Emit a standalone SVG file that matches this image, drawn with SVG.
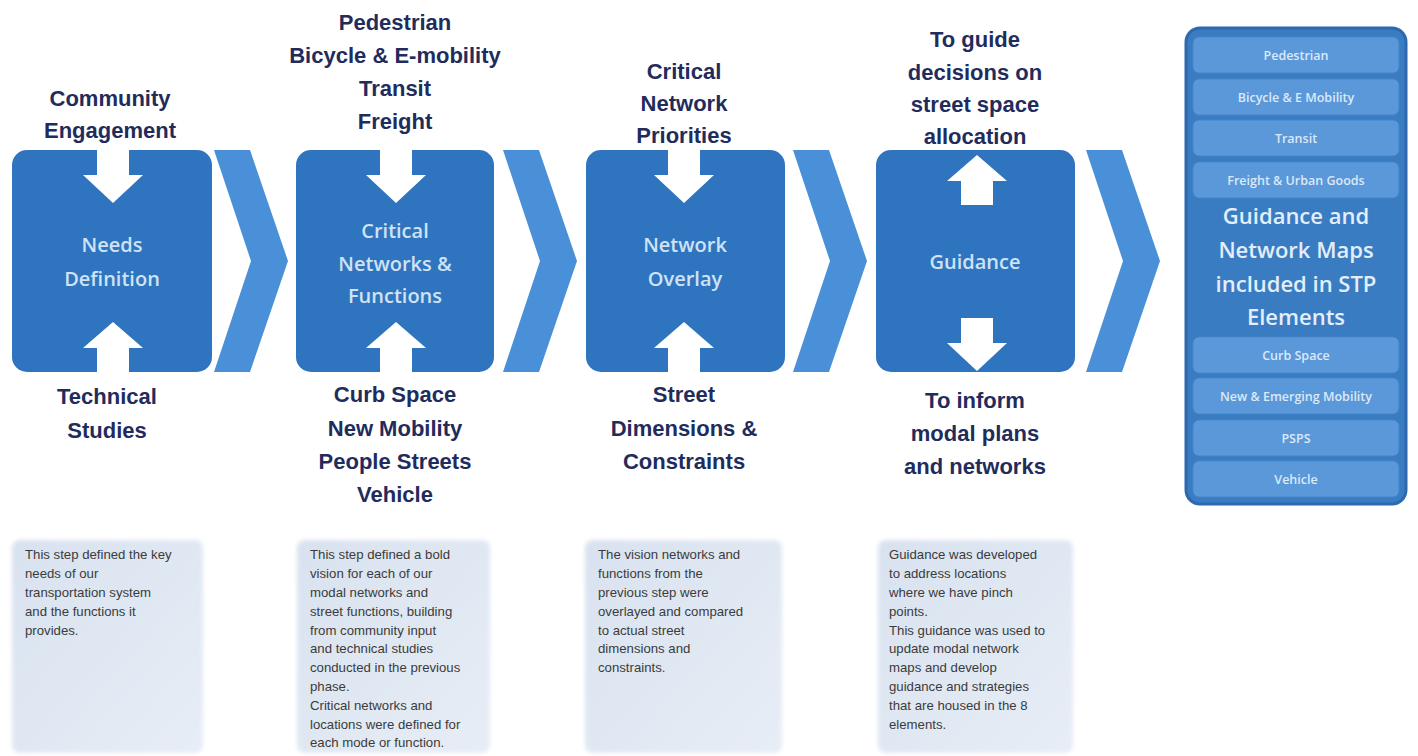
<svg xmlns="http://www.w3.org/2000/svg" width="1418" height="756" viewBox="0 0 1418 756">
<defs>
<style>
.box{fill:#2f74bf;}
.chev{fill:#4a90d8;}
.arr{fill:#ffffff;}
.lbl{font-family:"Liberation Sans",Arial,sans-serif;font-weight:bold;font-size:22px;fill:#1f2c5c;text-anchor:middle;}
.btxt{font-family:"Open Sans","Liberation Sans",sans-serif;font-weight:600;font-size:20px;fill:#cfe2f6;text-anchor:middle;}
.desc{fill:url(#dg);filter:url(#soft);}
.dtxt{font-family:"Liberation Sans",Arial,sans-serif;font-size:13.2px;fill:#3b3b3b;}
.bar{fill:#5a98da;stroke:#4585cb;stroke-width:1;}
.bartxt{font-family:"Open Sans","Liberation Sans",sans-serif;font-weight:600;font-size:12.5px;fill:#dbe9f8;text-anchor:middle;}
.big{font-family:"Open Sans","Liberation Sans",sans-serif;font-weight:600;font-size:22px;fill:#e2eefa;text-anchor:middle;}
</style>
<linearGradient id="dg" x1="0" y1="0" x2="1" y2="1">
<stop offset="0" stop-color="#d8e2ef"/>
<stop offset="1" stop-color="#e7edf6"/>
</linearGradient>
<filter id="soft" x="-10%" y="-10%" width="120%" height="120%">
<feGaussianBlur stdDeviation="2"/>
</filter>
<path id="aDown" d="M-16,0 L16,0 L16,25 L30,25 L0,53 L-30,25 L-16,25 Z"/>
<path id="aUp" d="M0,0 L30,26 L16,26 L16,50 L-16,50 L-16,26 L-30,26 Z"/>
<polygon id="chevron" points="0,0 36,0 74,111 36,222 0,222 37,111"/>
</defs>
<rect width="1418" height="756" fill="#ffffff"/>

<g id="step-needs">
<rect class="box" x="12" y="150" width="200" height="222" rx="15"/>
<text class="btxt" x="112" y="252">Needs</text>
<text class="btxt" x="112" y="286">Definition</text>
<text class="lbl" x="110" y="106">Community</text>
<text class="lbl" x="110" y="138">Engagement</text>
<text class="lbl" x="107" y="404">Technical</text>
<text class="lbl" x="107" y="438">Studies</text>
</g>

<g id="step-critical">
<rect class="box" x="296" y="150" width="198" height="222" rx="15"/>
<text class="btxt" x="395" y="238">Critical</text>
<text class="btxt" x="395" y="271">Networks &amp;</text>
<text class="btxt" x="395" y="303">Functions</text>
<text class="lbl" x="395" y="30">Pedestrian</text>
<text class="lbl" x="395" y="63">Bicycle &amp; E-mobility</text>
<text class="lbl" x="395" y="96">Transit</text>
<text class="lbl" x="395" y="129">Freight</text>
<text class="lbl" x="395" y="402">Curb Space</text>
<text class="lbl" x="395" y="436">New Mobility</text>
<text class="lbl" x="395" y="469">People Streets</text>
<text class="lbl" x="395" y="502">Vehicle</text>
</g>

<g id="step-overlay">
<rect class="box" x="586" y="150" width="199" height="222" rx="15"/>
<text class="btxt" x="685" y="252">Network</text>
<text class="btxt" x="685" y="286">Overlay</text>
<text class="lbl" x="684" y="79">Critical</text>
<text class="lbl" x="684" y="111">Network</text>
<text class="lbl" x="684" y="143">Priorities</text>
<text class="lbl" x="684" y="402">Street</text>
<text class="lbl" x="684" y="436">Dimensions &amp;</text>
<text class="lbl" x="684" y="469">Constraints</text>
</g>

<g id="step-guidance">
<rect class="box" x="876" y="150" width="199" height="222" rx="15"/>
<text class="btxt" x="975" y="269">Guidance</text>
<text class="lbl" x="975" y="47">To guide</text>
<text class="lbl" x="975" y="80">decisions on</text>
<text class="lbl" x="975" y="112">street space</text>
<text class="lbl" x="975" y="144">allocation</text>
<text class="lbl" x="975" y="408">To inform</text>
<text class="lbl" x="975" y="441">modal plans</text>
<text class="lbl" x="975" y="474">and networks</text>
</g>

<g id="stp-elements">
<rect x="1186" y="28" width="220" height="476" rx="14" fill="#3a7cc2" stroke="#2c69ad" stroke-width="3"/>
<rect class="bar" x="1193" y="37" width="206" height="36" rx="6"/>
<text class="bartxt" x="1296" y="60">Pedestrian</text>
<rect class="bar" x="1193" y="79" width="206" height="36" rx="6"/>
<text class="bartxt" x="1296" y="102">Bicycle &amp; E Mobility</text>
<rect class="bar" x="1193" y="120" width="206" height="36" rx="6"/>
<text class="bartxt" x="1296" y="143">Transit</text>
<rect class="bar" x="1193" y="162" width="206" height="36" rx="6"/>
<text class="bartxt" x="1296" y="185">Freight &amp; Urban Goods</text>
<text class="big" x="1296" y="224">Guidance and</text>
<text class="big" x="1296" y="258">Network Maps</text>
<text class="big" x="1296" y="292">included in STP</text>
<text class="big" x="1296" y="325">Elements</text>
<rect class="bar" x="1193" y="337" width="206" height="36" rx="6"/>
<text class="bartxt" x="1296" y="360">Curb Space</text>
<rect class="bar" x="1193" y="378" width="206" height="36" rx="6"/>
<text class="bartxt" x="1296" y="401">New &amp; Emerging Mobility</text>
<rect class="bar" x="1193" y="420" width="206" height="36" rx="6"/>
<text class="bartxt" x="1296" y="443">PSPS</text>
<rect class="bar" x="1193" y="461" width="206" height="36" rx="6"/>
<text class="bartxt" x="1296" y="484">Vehicle</text>
</g>

<g id="desc-needs">
<rect class="desc" x="12" y="540" width="191" height="213" rx="8"/>
<text class="dtxt" x="25" y="559">This step defined the key</text>
<text class="dtxt" x="25" y="578">needs of our</text>
<text class="dtxt" x="25" y="597">transportation system</text>
<text class="dtxt" x="25" y="616">and the functions it</text>
<text class="dtxt" x="25" y="635">provides.</text>
</g>

<g id="desc-critical">
<rect class="desc" x="297" y="540" width="193" height="213" rx="8"/>
<text class="dtxt" x="310" y="559">This step defined a bold</text>
<text class="dtxt" x="310" y="578">vision for each of our</text>
<text class="dtxt" x="310" y="597">modal networks and</text>
<text class="dtxt" x="310" y="616">street functions, building</text>
<text class="dtxt" x="310" y="635">from community input</text>
<text class="dtxt" x="310" y="653">and technical studies</text>
<text class="dtxt" x="310" y="672">conducted in the previous</text>
<text class="dtxt" x="310" y="691">phase.</text>
<text class="dtxt" x="310" y="710">Critical networks and</text>
<text class="dtxt" x="310" y="729">locations were defined for</text>
<text class="dtxt" x="310" y="747">each mode or function.</text>
</g>

<g id="desc-overlay">
<rect class="desc" x="585" y="540" width="197" height="213" rx="8"/>
<text class="dtxt" x="598" y="559">The vision networks and</text>
<text class="dtxt" x="598" y="578">functions from the</text>
<text class="dtxt" x="598" y="597">previous step were</text>
<text class="dtxt" x="598" y="616">overlayed and compared</text>
<text class="dtxt" x="598" y="635">to actual street</text>
<text class="dtxt" x="598" y="653">dimensions and</text>
<text class="dtxt" x="598" y="672">constraints.</text>
</g>

<g id="desc-guidance">
<rect class="desc" x="878" y="540" width="195" height="213" rx="8"/>
<text class="dtxt" x="889" y="559">Guidance was developed</text>
<text class="dtxt" x="889" y="578">to address locations</text>
<text class="dtxt" x="889" y="597">where we have pinch</text>
<text class="dtxt" x="889" y="616">points.</text>
<text class="dtxt" x="889" y="635">This guidance was used to</text>
<text class="dtxt" x="889" y="653">update modal network</text>
<text class="dtxt" x="889" y="672">maps and develop</text>
<text class="dtxt" x="889" y="691">guidance and strategies</text>
<text class="dtxt" x="889" y="710">that are housed in the 8</text>
<text class="dtxt" x="889" y="729">elements.</text>
</g>

<g id="connectors">
<use href="#chevron" class="chev" x="214" y="150"/>
<use href="#chevron" class="chev" x="503" y="150"/>
<use href="#chevron" class="chev" x="793" y="150"/>
<use href="#chevron" class="chev" x="1086" y="150"/>
<use href="#aDown" class="arr" x="113" y="150"/>
<use href="#aUp" class="arr" x="113" y="322"/>
<use href="#aDown" class="arr" x="396" y="150"/>
<use href="#aUp" class="arr" x="396" y="322"/>
<use href="#aDown" class="arr" x="684" y="150"/>
<use href="#aUp" class="arr" x="684" y="322"/>
<use href="#aUp" class="arr" x="977" y="155"/>
<use href="#aDown" class="arr" x="977" y="318"/>
</g>
</svg>
